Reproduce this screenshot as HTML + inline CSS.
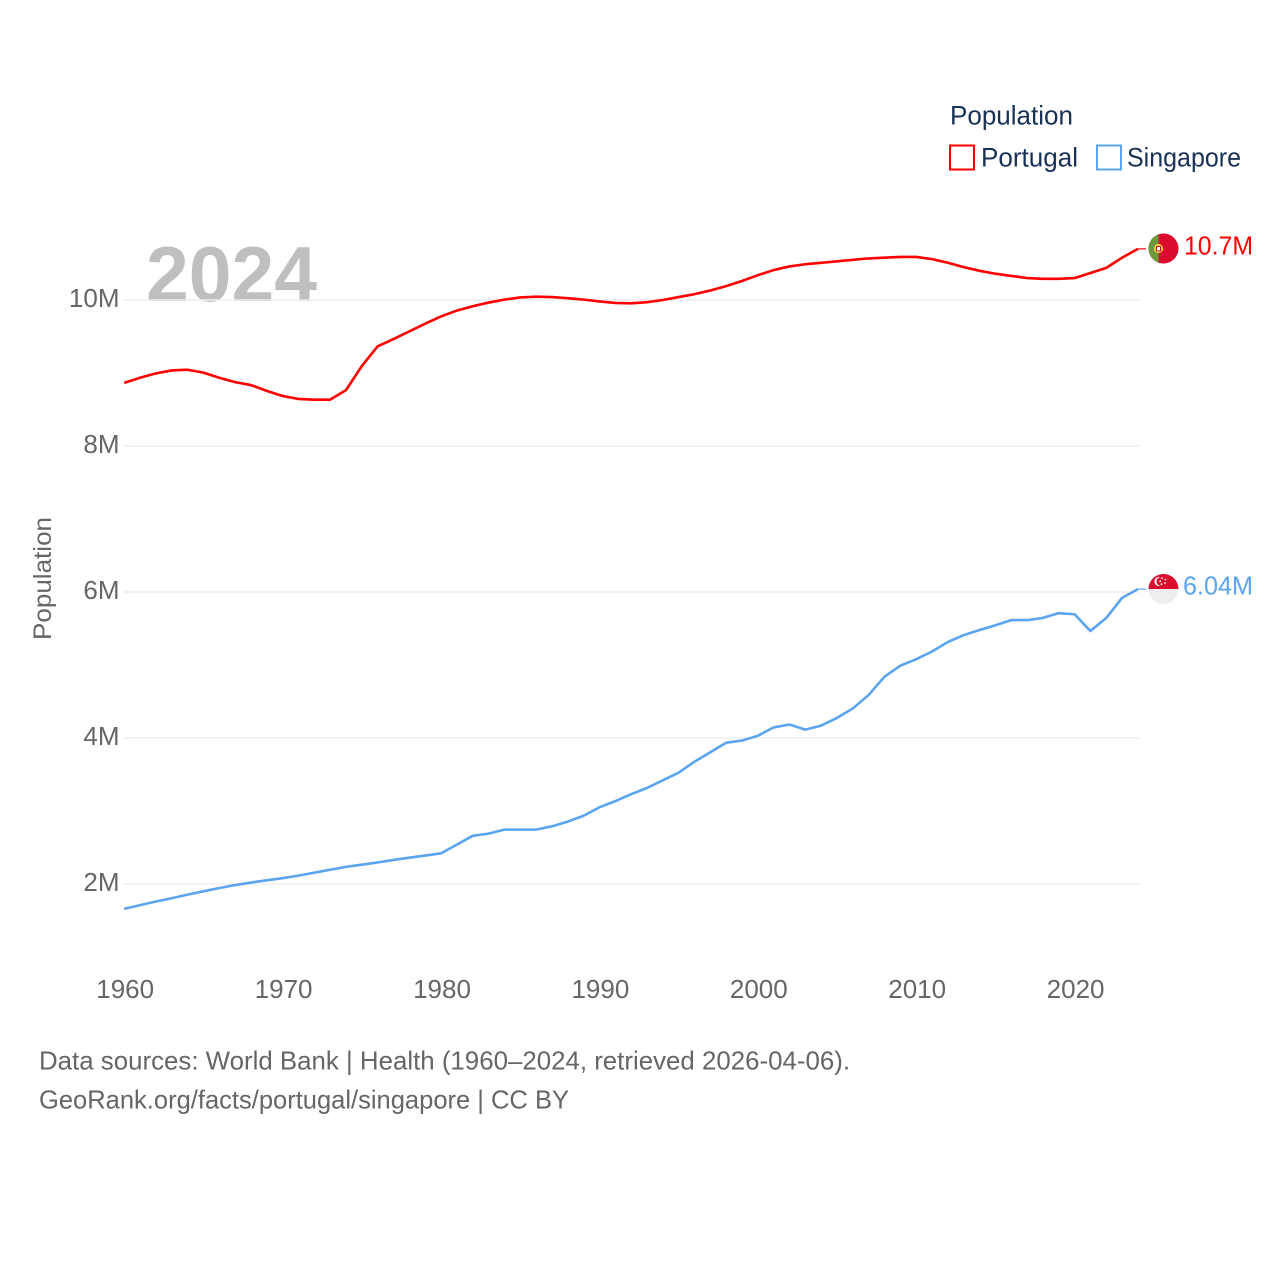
<!DOCTYPE html>
<html lang="en">
<head>
<meta charset="utf-8">
<title>Population: Portugal and Singapore</title>
<style>
html,body{margin:0;padding:0;background:#fff;}
svg{display:block;font-family:"Liberation Sans",sans-serif;}
</style>
</head>
<body>
<svg id="chart" xmlns="http://www.w3.org/2000/svg" width="1280" height="1280" viewBox="0 0 1280 1280">
  <rect x="0" y="0" width="1280" height="1280" fill="#ffffff"/>
  <text x="146" y="301" font-size="78" font-weight="700" fill="#bfbfbf" textLength="171" lengthAdjust="spacingAndGlyphs">2024</text>
  <g id="grid"></g>
  <g id="yticks"></g>
  <g id="xticks"></g>
  <text transform="translate(51,578.5) rotate(-90)" text-anchor="middle" font-size="25" fill="#666666" textLength="123" lengthAdjust="spacingAndGlyphs">Population</text>
  <g id="series"></g>

  <defs>
    <clipPath id="clip-pt"><circle cx="1163.5" cy="248.5" r="15"/></clipPath>
    <clipPath id="clip-sg"><circle cx="1163.5" cy="589" r="15"/></clipPath>
  </defs>
  <g clip-path="url(#clip-pt)">
    <rect x="1148" y="233" width="31" height="31" fill="#dc0a2d"/>
    <rect x="1148" y="233" width="10.500" height="31" fill="#6a9a3b"/>
    <circle cx="1158.5" cy="248.5" r="4.6" fill="#f2d13c"/>
    <rect x="1156.5" y="246.5" width="4" height="4.5" fill="#ffffff" stroke="#c8102e" stroke-width="1"/>
  </g>
  <g clip-path="url(#clip-sg)">
    <rect x="1148" y="574" width="31" height="15" fill="#dc0a2d"/>
    <rect x="1148" y="589" width="31" height="15" fill="#eeeeee"/>
    <circle cx="1159" cy="581.5" r="4.6" fill="#ffffff"/>
    <circle cx="1160.8" cy="581.5" r="4.4" fill="#dc0a2d"/>
    <circle cx="1162" cy="578.3" r="0.9" fill="#ffffff"/>
    <circle cx="1165.4" cy="579.6" r="0.9" fill="#ffffff"/>
    <circle cx="1165" cy="583" r="0.9" fill="#ffffff"/>
    <circle cx="1161.5" cy="584.2" r="0.9" fill="#ffffff"/>
    <circle cx="1160.2" cy="581.2" r="0.9" fill="#ffffff"/>
  </g>
  <text x="1184" y="254.500" font-size="26" fill="#ff0000" textLength="69" lengthAdjust="spacingAndGlyphs">10.7M</text>
  <text x="1183" y="594.500" font-size="26" fill="#5ba4ef" textLength="70" lengthAdjust="spacingAndGlyphs">6.04M</text>

  <g>
    <text x="950" y="124.500" font-size="27" fill="#1a3156" textLength="123" lengthAdjust="spacingAndGlyphs">Population</text>
    <g>
      <rect x="950" y="145.500" width="24" height="24" fill="#ffffff" stroke="#ff0000" stroke-width="2"/>
      <text x="981" y="166.500" font-size="27" fill="#1a3156" textLength="97" lengthAdjust="spacingAndGlyphs">Portugal</text>
    </g>
    <g>
      <rect x="1097" y="145.500" width="24" height="24" fill="#ffffff" stroke="#5ba4ef" stroke-width="2"/>
      <text x="1127" y="166.500" font-size="27" fill="#1a3156" textLength="114" lengthAdjust="spacingAndGlyphs">Singapore</text>
    </g>
  </g>

  <text x="39" y="1069.500" font-size="26" fill="#666666" textLength="811" lengthAdjust="spacingAndGlyphs">Data sources: World Bank | Health (1960–2024, retrieved 2026-04-06).</text>
  <text x="39" y="1108.500" font-size="26" fill="#666666" textLength="530" lengthAdjust="spacingAndGlyphs">GeoRank.org/facts/portugal/singapore | CC BY</text>
</svg>
<script>
const years = [1960,1961,1962,1963,1964,1965,1966,1967,1968,1969,1970,1971,1972,1973,1974,1975,1976,1977,1978,1979,1980,1981,1982,1983,1984,1985,1986,1987,1988,1989,1990,1991,1992,1993,1994,1995,1996,1997,1998,1999,2000,2001,2002,2003,2004,2005,2006,2007,2008,2009,2010,2011,2012,2013,2014,2015,2016,2017,2018,2019,2020,2021,2022,2023,2024];
const portugal = [8.865,8.935,8.995,9.035,9.045,9.005,8.935,8.875,8.835,8.755,8.685,8.645,8.635,8.635,8.765,9.095,9.365,9.465,9.57,9.675,9.775,9.855,9.915,9.965,10.005,10.035,10.045,10.04,10.025,10.005,9.98,9.96,9.955,9.97,10.0,10.04,10.08,10.13,10.19,10.26,10.34,10.41,10.46,10.49,10.51,10.53,10.55,10.57,10.58,10.59,10.59,10.56,10.51,10.45,10.40,10.36,10.33,10.30,10.29,10.29,10.30,10.37,10.44,10.58,10.70];
const singapore = [1.66,1.71,1.76,1.805,1.855,1.90,1.945,1.985,2.02,2.05,2.08,2.115,2.155,2.195,2.235,2.265,2.295,2.33,2.36,2.39,2.42,2.54,2.66,2.69,2.745,2.745,2.745,2.79,2.855,2.935,3.05,3.135,3.23,3.315,3.42,3.525,3.675,3.805,3.935,3.965,4.03,4.145,4.185,4.115,4.17,4.275,4.405,4.59,4.84,4.99,5.08,5.185,5.315,5.41,5.48,5.545,5.615,5.615,5.645,5.71,5.695,5.465,5.645,5.92,6.04];
const yTickValues = [2,4,6,8,10];
const yTickLabels = ["2M","4M","6M","8M","10M"];
const xTickValues = [1960,1970,1980,1990,2000,2010,2020];
const xTickLabels = ["1960","1970","1980","1990","2000","2010","2020"];

const SVG_NS = "http://www.w3.org/2000/svg";
function xScale(year){ return 124.2 + (year - 1960) * 15.84; }
function yScale(v){ return 884 - (v - 2) * 73; }

const gridLayer = document.getElementById("grid");
const yTickLayer = document.getElementById("yticks");
const xTickLayer = document.getElementById("xticks");
const seriesLayer = document.getElementById("series");

yTickValues.forEach(function(v, i){
  const line = document.createElementNS(SVG_NS, "line");
  
  
  line.setAttribute("x1", 124);
  line.setAttribute("x2", 1139);
  line.setAttribute("y1", yScale(v));
  line.setAttribute("y2", yScale(v));
  line.setAttribute("stroke", "#eeeeee");
  line.setAttribute("stroke-width", 1.6);
  gridLayer.appendChild(line);

  const label = document.createElementNS(SVG_NS, "text");
  
  
  label.setAttribute("x", 119.5);
  label.setAttribute("y", yScale(v) + 7);
  label.setAttribute("text-anchor", "end");
  label.setAttribute("font-size", 26);
  label.setAttribute("fill", "#666666");
  label.textContent = yTickLabels[i];
  yTickLayer.appendChild(label);
});

xTickValues.forEach(function(year, i){
  const label = document.createElementNS(SVG_NS, "text");
  
  
  label.setAttribute("x", xScale(year) + 1);
  label.setAttribute("y", 998);
  label.setAttribute("text-anchor", "middle");
  label.setAttribute("font-size", 26);
  label.setAttribute("fill", "#666666");
  label.textContent = xTickLabels[i];
  xTickLayer.appendChild(label);
});

function buildPoints(values){
  return values.map(function(v, i){
    return xScale(years[i]).toFixed(2) + "," + yScale(v).toFixed(2);
  }).join(" ");
}

const portugalLine = document.createElementNS(SVG_NS, "polyline");


portugalLine.setAttribute("points", buildPoints(portugal));
portugalLine.setAttribute("fill", "none");
portugalLine.setAttribute("stroke", "#ff0000");
portugalLine.setAttribute("stroke-width", 2.6);
portugalLine.setAttribute("stroke-linejoin", "round");
seriesLayer.appendChild(portugalLine);

const singaporeLine = document.createElementNS(SVG_NS, "polyline");


singaporeLine.setAttribute("points", buildPoints(singapore));
singaporeLine.setAttribute("fill", "none");
singaporeLine.setAttribute("stroke", "#5ba4ef");
singaporeLine.setAttribute("stroke-width", 2.6);
singaporeLine.setAttribute("stroke-linejoin", "round");
seriesLayer.appendChild(singaporeLine);

const portugalStub = document.createElementNS(SVG_NS, "line");


portugalStub.setAttribute("x1", xScale(years[years.length - 1]));
portugalStub.setAttribute("x2", xScale(years[years.length - 1]) + 8);
portugalStub.setAttribute("y1", yScale(portugal[portugal.length - 1]));
portugalStub.setAttribute("y2", yScale(portugal[portugal.length - 1]));
portugalStub.setAttribute("stroke", "#ff0000");
portugalStub.setAttribute("stroke-width", 1.2);
seriesLayer.appendChild(portugalStub);

const singaporeStub = document.createElementNS(SVG_NS, "line");


singaporeStub.setAttribute("x1", xScale(years[years.length - 1]));
singaporeStub.setAttribute("x2", xScale(years[years.length - 1]) + 8);
singaporeStub.setAttribute("y1", yScale(singapore[singapore.length - 1]));
singaporeStub.setAttribute("y2", yScale(singapore[singapore.length - 1]));
singaporeStub.setAttribute("stroke", "#5ba4ef");
singaporeStub.setAttribute("stroke-width", 1.2);
seriesLayer.appendChild(singaporeStub);
</script>
</body>
</html>
